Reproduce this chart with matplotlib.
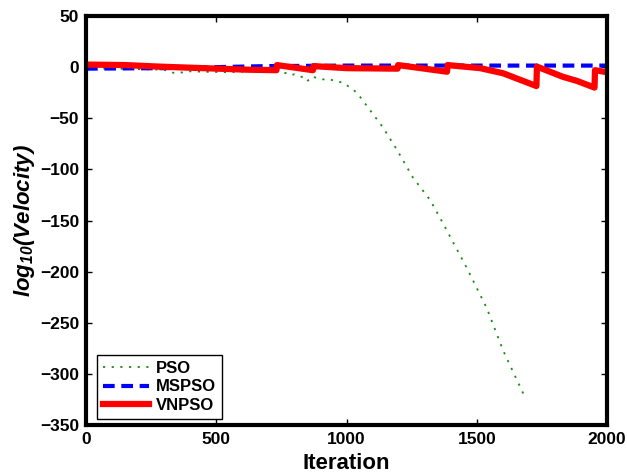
import matplotlib
matplotlib.use('Agg')
import matplotlib.pyplot as plt

plt.rcParams['font.family'] = ['Liberation Sans', 'DejaVu Sans']
plt.rcParams['font.weight'] = 'bold'
plt.rcParams['mathtext.fontset'] = 'custom'
plt.rcParams['mathtext.rm'] = 'Liberation Sans:bold:italic'
plt.rcParams['mathtext.it'] = 'Liberation Sans:bold:italic'

# PSO (green dotted)
pso_x = [0, 100, 200, 300, 322, 350, 372, 388, 450, 550, 650, 745, 770, 783,
         800, 833, 848, 870, 887, 910, 937, 960, 987, 1040, 1090, 1140, 1194,
         1255, 1321, 1371, 1463, 1539, 1601, 1680]
pso_y = [-1, -1.5, -2, -2.5, -5, -6, -5, -4, -4.5, -5, -4, -5, -6, -8,
         -7, -10, -14, -9, -11, -12, -12, -14, -15, -25, -42, -59, -81,
         -108, -130, -153, -197, -236, -277, -320]

# MSPSO (blue dashed)
mspso_x = [0, 300, 500, 700, 1000, 1500, 2000]
mspso_y = [-1.5, -1, 0, 1, 1.5, 1.5, 1.5]

# VNPSO (red solid)
vnpso_x = [0, 150, 280, 450, 618, 731, 733, 871, 873, 1000, 1196, 1198, 1386,
           1388, 1513, 1601, 1729, 1731, 1831, 1885, 1952, 1954, 2000]
vnpso_y = [2.5, 2, 0.5, -1, -2.5, -3, 2, -3, 1, -1, -1.5, 2, -4.5,
           2, -1, -6, -18.5, 0.5, -9.5, -13.5, -20, -3, -5]

fig = plt.figure(figsize=(6.27, 4.76), dpi=100)
ax = fig.add_axes([0.1372, 0.1071, 0.8309, 0.8593])

ax.plot(pso_x, pso_y, color='#1a8a1a', linewidth=1.3, dashes=(1.2, 3.6),
        label='PSO')
ax.plot(mspso_x, mspso_y, color='#0000FF', linewidth=3.0, dashes=(2.8, 1.6),
        label='MSPSO')
ax.plot(vnpso_x, vnpso_y, color='#FF0000', linewidth=4.5, label='VNPSO')

ax.set_xlim(0, 2000)
ax.set_ylim(-350, 50)
ax.set_xticks([0, 500, 1000, 1500, 2000])
ax.set_yticks(range(-350, 51, 50))

for s in ax.spines.values():
    s.set_linewidth(3)
ax.tick_params(direction='in', length=4, width=1, top=True, right=True,
               labelsize=12.5, pad=5)

ax.set_xlabel('Iteration', fontsize=16, fontweight='bold', labelpad=4)
ax.set_ylabel('log$_{10}$(Velocity)', fontsize=16, fontweight='bold',
              fontstyle='italic')
ax.yaxis.set_label_coords(-0.094, 0.5)

leg = ax.legend(loc='lower left', bbox_to_anchor=(0.021, 0.015),
                borderaxespad=0, fontsize=12, handlelength=2.8,
                labelspacing=0.22, fancybox=False, framealpha=1,
                edgecolor='black', borderpad=0.35, handletextpad=0.4)
leg.get_frame().set_linewidth(1.0)
for t in leg.get_texts():
    t.set_fontweight('bold')

fig.savefig('out.png', dpi=100)
